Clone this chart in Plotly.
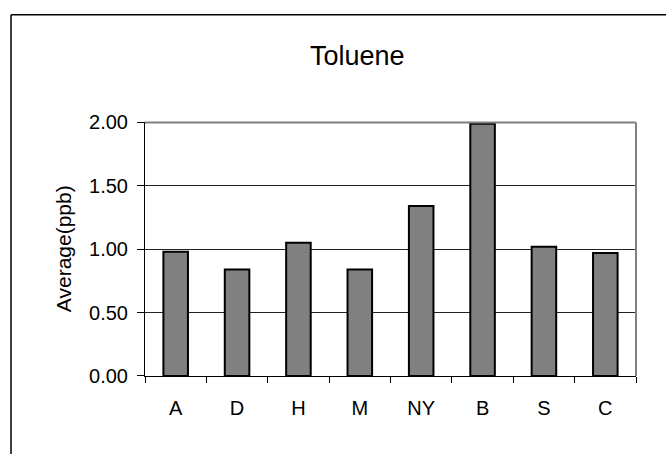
import plotly.graph_objects as go

categories = ["A", "D", "H", "M", "NY", "B", "S", "C"]
values = [0.98, 0.84, 1.05, 0.84, 1.34, 1.99, 1.02, 0.97]
y_ticks = [0, 0.5, 1.0, 1.5, 2.0]
y_tick_labels = ["0.00", "0.50", "1.00", "1.50", "2.00"]

W, H = 666, 465
FONT = "Liberation Sans, Arial, sans-serif"

def px(x):
    return x / W

def py(y):
    return (H - y) / H

fig = go.Figure(
    go.Bar(
        x=categories,
        y=values,
        width=0.4,
        marker=dict(color="#808080", line=dict(color="black", width=2)),
    )
)

fig.update_layout(
    width=W,
    height=H,
    autosize=False,
    margin=dict(l=0, r=0, t=0, b=0, pad=0),
    paper_bgcolor="white",
    plot_bgcolor="white",
    showlegend=False,
    font=dict(family=FONT, color="black"),
    xaxis=dict(
        domain=[px(145), px(636)],
        tickson="boundaries",
        ticks="outside",
        ticklen=6,
        tickcolor="black",
        showline=True,
        linecolor="black",
        linewidth=1,
        showgrid=False,
        tickfont=dict(size=20, family=FONT, color="black"),
        ticklabelstandoff=14,
    ),
    yaxis=dict(
        domain=[py(383), py(117)],
        range=[0, 2],
        tickvals=y_ticks,
        ticktext=y_tick_labels,
        ticks="outside",
        ticklen=7,
        tickcolor="black",
        showline=True,
        linecolor="black",
        linewidth=1,
        showgrid=True,
        gridcolor="#222222",
        gridwidth=1,
        zeroline=False,
        tickfont=dict(size=20, family=FONT, color="black"),
        ticklabelstandoff=5,
    ),
    shapes=[
        dict(type="line", xref="paper", yref="paper", x0=px(11), x1=1, y0=py(4), y1=py(4),
             line=dict(color="black", width=1.5)),
        dict(type="line", xref="paper", yref="paper", x0=px(11), x1=px(11), y0=py(4), y1=0,
             line=dict(color="black", width=1.5)),
        dict(type="line", xref="x domain", yref="y domain", x0=0, x1=1, y0=1, y1=1,
             line=dict(color="#808080", width=2)),
        dict(type="line", xref="x domain", yref="y domain", x0=1, x1=1, y0=0, y1=1,
             line=dict(color="#808080", width=2)),
    ],
    annotations=[
        dict(text="Toluene", xref="paper", yref="paper", x=px(357), y=py(47),
             showarrow=False, font=dict(size=27, family=FONT, color="black"),
             xanchor="center", yanchor="middle"),
        dict(text="Average(ppb)", xref="paper", yref="paper", x=px(63), y=py(250),
             showarrow=False, textangle=-90, font=dict(size=21, family=FONT, color="black"),
             xanchor="center", yanchor="middle"),
    ],
)

fig.write_html("out.html")
